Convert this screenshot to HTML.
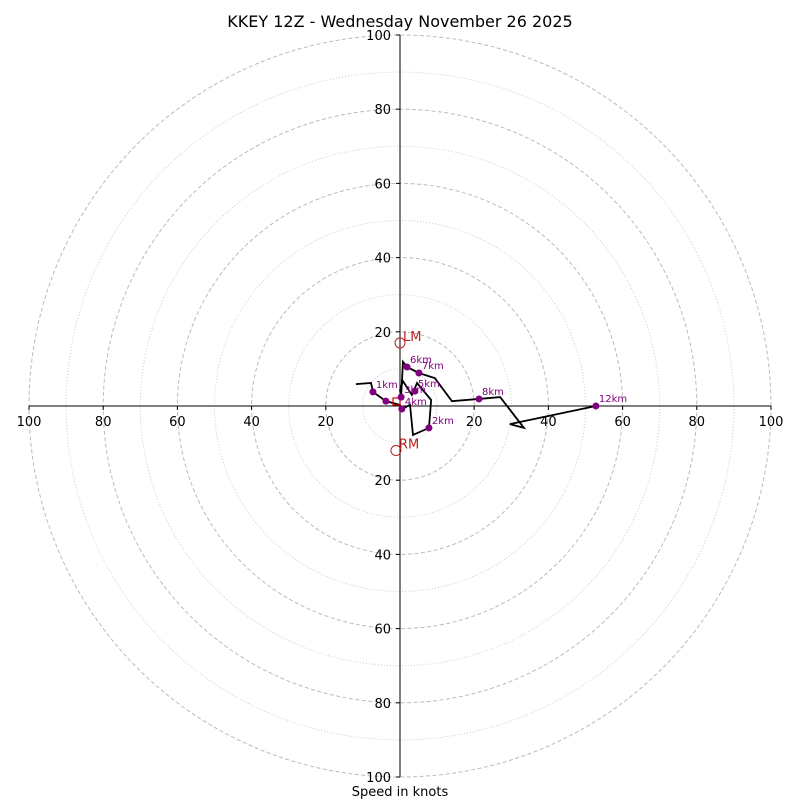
<!DOCTYPE html>
<html><head><meta charset="utf-8"><style>
body{margin:0;background:#fff}
svg{display:block;font-family:"DejaVu Sans","Liberation Sans",sans-serif}
</style></head><body>
<svg id="c" width="800" height="800"></svg>
<script>
const ringsMajor=[20,40,60,80,100];
const ringsMinor=[10,30,50,70,90];
const tickVals=[20,40,60,80,100];
const pathU=[-11.9,-7.8,-7.3,-3.8,0,0.5,2.7,3.5,7.8,8.4,4.6,3.2,0.8,0,0.3,0.8,1.9,5.1,9.4,14.0,21.3,27.0,33.4,29.6,52.8];
const pathV=[5.9,6.2,3.8,1.3,0.3,-0.8,0.3,-7.8,-5.9,1.6,6.2,3.0,6.7,4.3,2.4,11.9,10.5,8.9,7.5,1.3,1.9,2.4,-5.9,-4.9,0];
const dotLabels=["1km","","2km","3km","4km","5km","6km","7km","8km","12km"];
const dotU=[-7.3,-3.8,7.8,0.3,0.5,4.0,1.9,5.1,21.3,52.8];
const dotV=[3.8,1.3,-5.9,2.4,-0.8,4.0,10.5,8.9,1.9,0];
const motionNames=["LM","RM"];
const motionU=[0,-1.1];
const motionV=[17.0,-12.0];
const cx=400,cy=406,k=3.71;
const X=u=>cx+u*k, Y=v=>cy-v*k;
const svg=document.getElementById('c');const NS='http://www.w3.org/2000/svg';
function mk(t,a,txt){const e=document.createElementNS(NS,t);for(const p in a)e.setAttribute(p,a[p]);if(txt!==undefined)e.textContent=txt;svg.appendChild(e);return e;}
ringsMinor.forEach(r=>{const e=mk('circle',{cx,cy,r:r*k,fill:'none',stroke:'#ccc','stroke-dasharray':'1,2'});

});
ringsMajor.forEach(r=>{const e=mk('circle',{cx,cy,r:r*k,fill:'none',stroke:'#bbb','stroke-dasharray':'4,2.5'});

});
let a=mk('line',{x1:X(-100),x2:X(100),y1:cy,y2:cy,stroke:'#000'});


a=mk('line',{x1:cx,x2:cx,y1:Y(100),y2:Y(-100),stroke:'#000'});


tickVals.forEach(t=>{[-1,1].forEach(s=>{
 mk('line',{x1:X(s*t),x2:X(s*t),y1:cy,y2:cy+4,stroke:'#000'});
 let e=mk('text',{x:X(s*t),y:cy+20,'text-anchor':'middle','font-size':13},t);
 
 
 mk('line',{x1:cx,x2:cx-4,y1:Y(s*t),y2:Y(s*t),stroke:'#000'});
 e=mk('text',{x:cx-9,y:Y(s*t)+5,'text-anchor':'end','font-size':13},t);
 
 
});});
let pts=pathU.map((u,i)=>X(u)+','+Y(pathV[i])).join(' ');
let pl=mk('polyline',{points:pts,fill:'none',stroke:'#000','stroke-width':1.8});


let sq=mk('rect',{x:393,y:398,width:7,height:7,fill:'none',stroke:'#d00','stroke-width':1.2});


dotU.forEach((u,i)=>{
 const d=mk('circle',{cx:X(u),cy:Y(dotV[i]),r:3.5,fill:'purple'});
 
 
 if(dotLabels[i]){const t=mk('text',{x:X(u)+3,y:Y(dotV[i])-4,'font-size':10,fill:'purple'},dotLabels[i]);
 
 }
});
motionU.forEach((u,i)=>{
 const c=mk('circle',{cx:X(u),cy:Y(motionV[i]),r:5,fill:'none',stroke:'#b22'});
 
 
 const t=mk('text',{x:X(u)+3,y:Y(motionV[i])-2,'font-size':13,fill:'#b22'},motionNames[i]);
 
 
});
let tt=mk('text',{x:400,y:27,'text-anchor':'middle','font-size':16},'KKEY 12Z - Wednesday November 26 2025');


tt=mk('text',{x:400,y:796,'text-anchor':'middle','font-size':13},'Speed in knots');


</script>
</body></html>
